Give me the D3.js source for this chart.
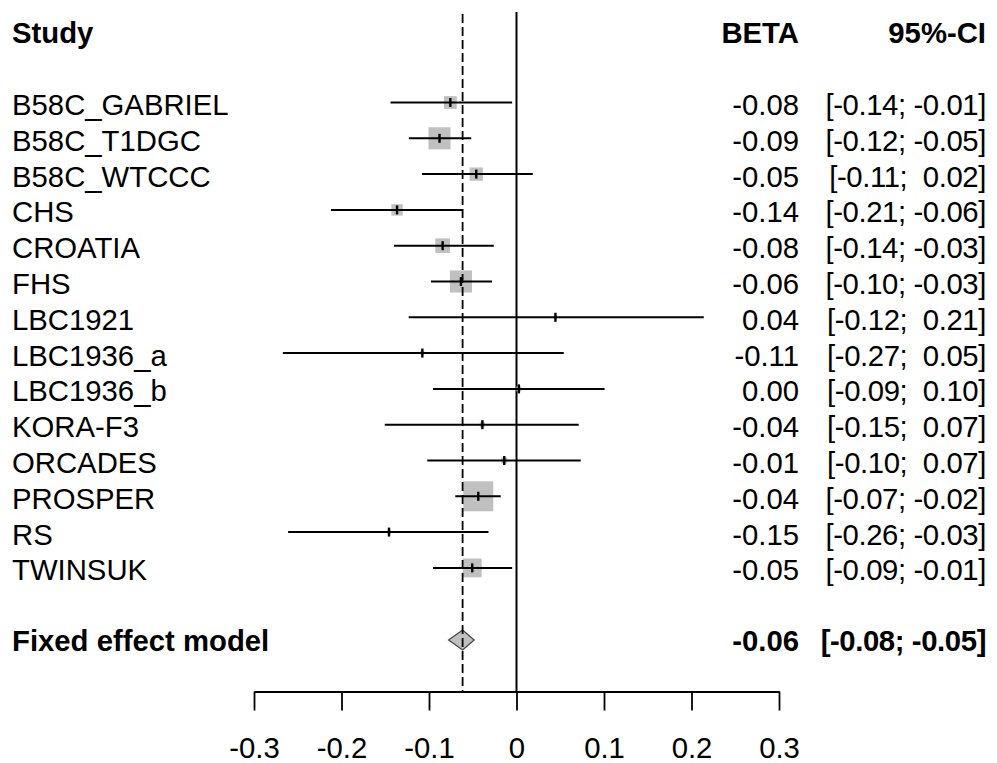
<!DOCTYPE html>
<html>
<head>
<meta charset="utf-8">
<script src="https://cdn.jsdelivr.net/npm/d3@7"></script>
<style>
  body { margin: 0; background: #fff; }
  text { font-family: "Liberation Sans", Arial, sans-serif; }
</style>
</head>
<body>
<div id="vis"></div>
<script>
// study rows
const studies = ["B58C_GABRIEL", "B58C_T1DGC", "B58C_WTCCC", "CHS", "CROATIA", "FHS", "LBC1921",
  "LBC1936_a", "LBC1936_b", "KORA-F3", "ORCADES", "PROSPER", "RS", "TWINSUK"];
const beta  = [-0.0756, -0.088, -0.046, -0.1365, -0.0844, -0.0635, 0.0445, -0.1076, 0.0027, -0.039, -0.014, -0.0437, -0.1457, -0.0506];
const lower = [-0.144, -0.123, -0.108, -0.212, -0.140, -0.0977, -0.1232, -0.267, -0.0954, -0.1506, -0.102, -0.070, -0.261, -0.0954];
const upper = [-0.005, -0.0517, 0.0186, -0.061, -0.026, -0.028, 0.214, 0.054, 0.1007, 0.0711, 0.0734, -0.018, -0.032, -0.005];
const weight = [7.4, 12.8, 7.7, 6.6, 8.5, 12.8, 2.0, 2.3, 2.9, 2.9, 3.5, 17.4, 2.3, 10.9];
const betaLabels = ["-0.08", "-0.09", "-0.05", "-0.14", "-0.08", "-0.06", "0.04", "-0.11", "0.00", "-0.04", "-0.01", "-0.04", "-0.15", "-0.05"];
const ciLabels = ["[-0.14; -0.01]", "[-0.12; -0.05]", "[-0.11;  0.02]", "[-0.21; -0.06]", "[-0.14; -0.03]",
  "[-0.10; -0.03]", "[-0.12;  0.21]", "[-0.27;  0.05]", "[-0.09;  0.10]", "[-0.15;  0.07]", "[-0.10;  0.07]",
  "[-0.07; -0.02]", "[-0.26; -0.03]", "[-0.09; -0.01]"];

// fixed effect summary
const fixedBeta = -0.0616, fixedLower = -0.0776, fixedUpper = -0.0483;
const fixedLabel = "Fixed effect model", fixedBetaLabel = "-0.06", fixedCiLabel = "[-0.08; -0.05]";

const ticks = [-0.3, -0.2, -0.1, 0, 0.1, 0.2, 0.3];

const W = 997, H = 763, fs = 29.3;

const svg = d3.select("#vis").append("svg")
  .attr("width", W).attr("height", H);

const x = d3.scaleLinear().domain([-0.3, 0.3]).range([254, 779]);
// row index -> y; header is row -2, studies 0..13, summary row 15
const y = d3.scaleLinear().domain([0, 15]).range([102.5, 639.5]);
const size = d3.scaleLinear().domain([0, d3.max(weight)]).range([0, 30]);

const axisY = 691.5;

// reference line at 0
svg.append("line")
  .attr("x1", x(0)).attr("x2", x(0)).attr("y1", 12).attr("y2", axisY)
  .attr("stroke", "#000").attr("stroke-width", 2);

// squares (drawn under lines)
svg.append("g").selectAll("rect")
  .data(studies)
  .join("rect")
    .attr("x", (d, i) => x(beta[i]) - size(weight[i]) / 2)
    .attr("y", (d, i) => y(i) - size(weight[i]) / 2)
    .attr("width", (d, i) => size(weight[i]))
    .attr("height", (d, i) => size(weight[i]))
    .attr("fill", "#c0c0c0");

// confidence intervals
svg.append("g").selectAll("line")
  .data(studies)
  .join("line")
    .attr("x1", (d, i) => x(lower[i]))
    .attr("x2", (d, i) => x(upper[i]))
    .attr("y1", (d, i) => y(i))
    .attr("y2", (d, i) => y(i))
    .attr("stroke", "#000").attr("stroke-width", 2);

// estimate ticks
svg.append("g").selectAll("line")
  .data(studies)
  .join("line")
    .attr("x1", (d, i) => x(beta[i]))
    .attr("x2", (d, i) => x(beta[i]))
    .attr("y1", (d, i) => y(i) - 4.5)
    .attr("y2", (d, i) => y(i) + 4.5)
    .attr("stroke", "#000").attr("stroke-width", 2.4);

// diamond for fixed effect
const fy = y(15) + 0.5;
svg.append("path")
  .attr("d", `M${x(fixedLower)},${fy} L${x(fixedBeta)},${fy - 10} L${x(fixedUpper)},${fy} L${x(fixedBeta)},${fy + 10} Z`)
  .attr("fill", "#c0c0c0").attr("stroke", "#444").attr("stroke-width", 1.2);

// dashed line at fixed effect
svg.append("line")
  .attr("x1", x(fixedBeta)).attr("x2", x(fixedBeta)).attr("y1", 14).attr("y2", axisY)
  .attr("stroke", "#000").attr("stroke-width", 1.8).attr("stroke-dasharray", "9,4");

// x axis
const axis = svg.append("g")
  .attr("transform", `translate(0,${axisY})`)
  .call(d3.axisBottom(x).tickValues(ticks).tickSize(19).tickSizeOuter(0).tickFormat(d => String(d)));
axis.select(".domain").attr("stroke", "#000").attr("stroke-width", 1.8);
axis.selectAll(".tick line").attr("stroke", "#000").attr("stroke-width", 1.8);
axis.selectAll(".tick text")
  .attr("y", 66).attr("dy", 0)
  .attr("fill", "#000")
  .style("font-size", fs + "px")
  .style("font-family", '"Liberation Sans", Arial, sans-serif');

// header
const header = svg.append("g").attr("font-weight", "bold").attr("font-size", fs);
header.append("text").attr("x", 12).attr("y", y(-2) + 12.5).text("Study");
header.append("text").attr("x", 799).attr("y", y(-2) + 12.5).attr("text-anchor", "end").text("BETA");
header.append("text").attr("x", 986).attr("y", y(-2) + 12.5).attr("text-anchor", "end").text("95%-CI");

// row labels
const labels = svg.append("g").attr("font-size", fs);
labels.selectAll(".study")
  .data(studies)
  .join("text")
    .attr("class", "study")
    .attr("x", 12)
    .attr("y", (d, i) => y(i) + 12.5)
    .text(d => d);
labels.selectAll(".beta")
  .data(betaLabels)
  .join("text")
    .attr("class", "beta")
    .attr("x", 799).attr("text-anchor", "end")
    .attr("y", (d, i) => y(i) + 12.5)
    .text(d => d);
labels.selectAll(".ci")
  .data(ciLabels)
  .join("text")
    .attr("class", "ci")
    .attr("x", 986).attr("text-anchor", "end")
    .attr("y", (d, i) => y(i) + 12.5)
    .attr("xml:space", "preserve")
    .style("white-space", "pre")
    .style("letter-spacing", "-0.4px")
    .text(d => d);

// summary text
const summ = svg.append("g").attr("font-weight", "bold").attr("font-size", fs);
summ.append("text").attr("x", 12).attr("y", y(15) + 11).text(fixedLabel);
summ.append("text").attr("x", 799).attr("y", y(15) + 11).attr("text-anchor", "end").text(fixedBetaLabel);
summ.append("text").attr("x", 986).attr("y", y(15) + 11).attr("text-anchor", "end")
  .style("letter-spacing", "-0.4px").text(fixedCiLabel);
</script>
</body>
</html>
